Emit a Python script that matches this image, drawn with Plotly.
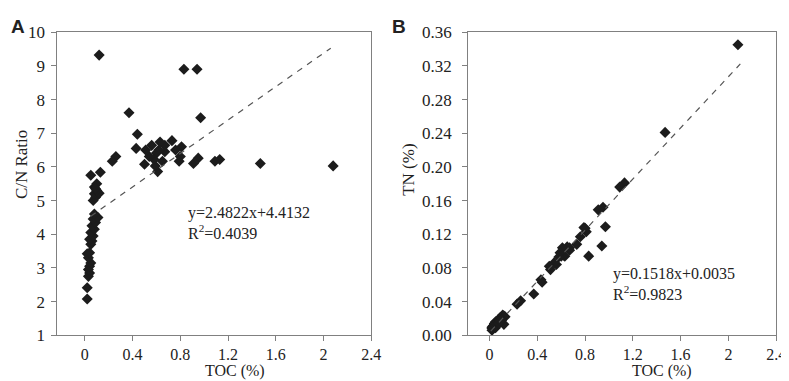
import numpy as np
import plotly.graph_objects as go

# Sample values (TOC %, C/N ratio, TN %)
toc = [2.08, 1.47, 1.13, 1.09, 0.97, 0.95, 0.94, 0.91, 0.83, 0.81, 0.80, 0.79,
       0.76, 0.73, 0.67, 0.67, 0.65, 0.63, 0.62, 0.61, 0.60, 0.59, 0.58, 0.56,
       0.54, 0.51, 0.50, 0.44, 0.43, 0.37, 0.26, 0.23, 0.13, 0.12, 0.05,
       0.02, 0.02, 0.03, 0.04, 0.03, 0.04, 0.05, 0.03, 0.02, 0.04, 0.05, 0.06,
       0.04, 0.07, 0.05, 0.08, 0.06, 0.09, 0.07, 0.11, 0.08, 0.07, 0.09, 0.08,
       0.12, 0.10, 0.08, 0.10, 0.09]
cn_ratio = [6.03, 6.10, 6.22, 6.17, 7.46, 6.26, 8.90, 6.10, 8.90, 6.60, 6.31, 6.17,
            6.50, 6.78, 6.64, 6.45, 6.17, 6.74, 6.50, 5.86, 6.41, 6.03, 6.22, 6.64,
            6.31, 6.50, 6.08, 6.97, 6.55, 7.61, 6.31, 6.17, 5.84, 9.32, 5.75,
            2.08, 2.41, 2.75, 2.85, 2.95, 3.05, 3.15, 3.30, 3.42, 3.45, 3.70, 3.80,
            3.85, 3.95, 4.05, 4.15, 4.25, 4.35, 4.45, 4.50, 4.60, 5.00, 5.10, 5.20,
            5.22, 5.30, 5.40, 5.50, 5.35]
tn = [0.345, 0.241, 0.181, 0.176, 0.129, 0.152, 0.106, 0.149, 0.094, 0.123, 0.127, 0.128,
      0.117, 0.108, 0.101, 0.104, 0.105, 0.094, 0.095, 0.104, 0.094, 0.098, 0.093, 0.084,
      0.086, 0.078, 0.082, 0.063, 0.066, 0.049, 0.041, 0.037, 0.022, 0.013, 0.009,
      0.0096, 0.0083, 0.011, 0.014, 0.010, 0.013, 0.016, 0.009, 0.006, 0.012, 0.014, 0.016,
      0.010, 0.018, 0.012, 0.019, 0.014, 0.021, 0.016, 0.024, 0.017, 0.014, 0.018, 0.015,
      0.023, 0.019, 0.015, 0.018, 0.017]

# Regression lines (from printed equations)
fit_a_x = [0.05, 2.06]
fit_a_slope, fit_a_int = 2.4822, 4.4132
fit_b_x = [0.01, 2.10]
fit_b_slope, fit_b_int = 0.1518, 0.0035

xticks = [0, 0.4, 0.8, 1.2, 1.6, 2.0, 2.4]
xticklabels = ["0", "0.4", "0.8", "1.2", "1.6", "2", "2.4"]
yticks_a = [1, 2, 3, 4, 5, 6, 7, 8, 9, 10]
yticks_b = [0, 0.04, 0.08, 0.12, 0.16, 0.20, 0.24, 0.28, 0.32, 0.36]
yticklabels_b = ["0.00", "0.04", "0.08", "0.12", "0.16", "0.20", "0.24", "0.28", "0.32", "0.36"]

W, H = 789, 381
SERIF = "Liberation Serif, Times New Roman, serif"
MARK = "#1c1c1c"
AXC = "#808080"

fig = go.Figure()
fig.add_trace(go.Scatter(x=toc, y=cn_ratio, mode="markers", xaxis="x", yaxis="y",
                         marker=dict(symbol="diamond", size=8.5, color=MARK,
                                     line=dict(width=0)), showlegend=False))
fig.add_trace(go.Scatter(x=fit_a_x, y=[fit_a_slope * v + fit_a_int for v in fit_a_x],
                         mode="lines", xaxis="x", yaxis="y",
                         line=dict(color="#555555", width=1.2, dash="6px,6px"),
                         showlegend=False))
fig.add_trace(go.Scatter(x=toc, y=tn, mode="markers", xaxis="x2", yaxis="y2",
                         marker=dict(symbol="diamond", size=8.5, color=MARK,
                                     line=dict(width=0)), showlegend=False))
fig.add_trace(go.Scatter(x=fit_b_x, y=[fit_b_slope * v + fit_b_int for v in fit_b_x],
                         mode="lines", xaxis="x2", yaxis="y2",
                         line=dict(color="#555555", width=1.2, dash="6px,6px"),
                         showlegend=False))

def px_x(p):
    return p / W

def px_y(p):
    return 1 - p / H

axis_common = dict(showline=True, linecolor=AXC, linewidth=1, mirror=True,
                   ticks="outside", ticklen=5, tickcolor=AXC, tickwidth=1,
                   showgrid=False, zeroline=False)
yfont = dict(family=SERIF, size=17, color="#222222")
xfont = dict(family=SERIF, size=16, color="#222222")

fig.update_layout(
    width=W, height=H, margin=dict(l=0, r=0, t=0, b=0),
    paper_bgcolor="white", plot_bgcolor="white",
    xaxis=dict(domain=[px_x(50), px_x(368)], range=[-0.23, 2.4], tickvals=xticks,
               ticktext=xticklabels, anchor="y", tickfont=xfont, **axis_common),
    yaxis=dict(domain=[px_y(335), px_y(16)], range=[1, 10], tickvals=yticks_a,
               anchor="x", ticklabelstandoff=3, tickfont=yfont, **axis_common),
    xaxis2=dict(domain=[px_x(466), px_x(778)], range=[-0.18, 2.4], tickvals=xticks,
                ticktext=xticklabels, anchor="y2", tickfont=xfont, **axis_common),
    yaxis2=dict(domain=[px_y(335), px_y(16)], range=[0, 0.36], tickvals=yticks_b,
                ticktext=yticklabels_b, anchor="x2", ticklabelstandoff=7, tickfont=yfont,
                **axis_common),
)

ann = []
def add_text(text, x, y, size=17, angle=0, family=SERIF, xanchor="center", bold=False):
    ann.append(dict(text=("<b>%s</b>" % text) if bold else text, x=px_x(x), y=px_y(y),
                    xref="paper", yref="paper", showarrow=False, textangle=angle,
                    xanchor=xanchor, yanchor="middle",
                    font=dict(family=family, size=size, color="#222222")))

add_text("TOC (%)", 230, 373, size=16)
add_text("TOC (%)", 662, 373, size=16)
add_text("C/N Ratio", 13, 155, angle=-90)
add_text("TN (%)", 406, 161, angle=-90)
add_text("y=2.4822x+4.4132", 180, 206, size=16, xanchor="left")
add_text("R<sup>2</sup>=0.4039", 180, 226, size=16, xanchor="left")
add_text("y=0.1518x+0.0035", 611, 271, size=16, xanchor="left")
add_text("R<sup>2</sup>=0.9823", 611, 291, size=16, xanchor="left")
add_text("A", 10, 10, size=19, family="Liberation Sans, Arial, sans-serif", bold=True)
add_text("B", 396, 10, size=19, family="Liberation Sans, Arial, sans-serif", bold=True)
fig.update_layout(annotations=ann)

fig.write_html("out.html")
